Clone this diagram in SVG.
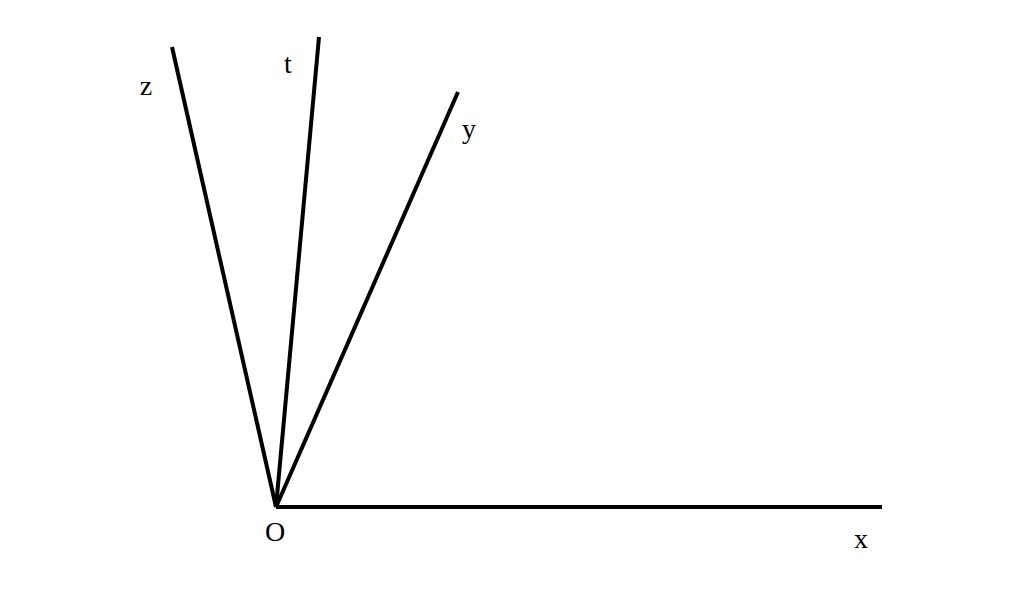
<svg xmlns="http://www.w3.org/2000/svg" width="1024" height="613" viewBox="0 0 1024 613">
<style>
.ray{stroke:#000;stroke-width:4;fill:none;stroke-linecap:butt}
.lbl{font-family:"Liberation Serif","Times New Roman",serif;font-size:28px;fill:#000;text-anchor:middle}
</style>
<rect width="1024" height="613" fill="#fff"/>
<g id="connectors">
<line class="ray" x1="276" y1="507" x2="882" y2="507"/>
<line class="ray" x1="276" y1="507" x2="172" y2="47"/>
<line class="ray" x1="276" y1="507" x2="319" y2="37"/>
<line class="ray" x1="276" y1="507" x2="458" y2="92"/>
</g>
<g id="O"><text class="lbl" x="275" y="541">O</text></g>
<g id="x"><text class="lbl" x="861" y="548">x</text></g>
<g id="y"><text class="lbl" x="469" y="138">y</text></g>
<g id="z"><text class="lbl" x="146" y="95">z</text></g>
<g id="t"><text class="lbl" x="288" y="73">t</text></g>
</svg>
